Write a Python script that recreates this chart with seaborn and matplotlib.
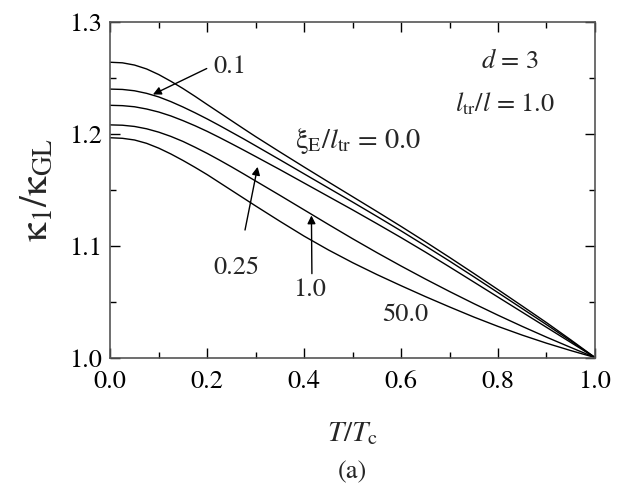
import numpy as np
import pandas as pd
import seaborn as sns
import matplotlib
matplotlib.use("Agg")
import matplotlib.pyplot as plt
from matplotlib.ticker import MultipleLocator, FormatStrFormatter

T = [0.000, 0.025, 0.050, 0.075, 0.100, 0.125, 0.150, 0.175, 0.200, 0.225, 0.250,
     0.275, 0.300, 0.35, 0.40, 0.45, 0.50, 0.55, 0.60, 0.65, 0.70, 0.75, 0.80,
     0.85, 0.90, 0.95, 1.00]
k_00 = [1.2640, 1.2635, 1.2615, 1.2580, 1.2530, 1.2470, 1.2405, 1.2335, 1.2262, 1.2190,
        1.2118, 1.2046, 1.1975, 1.1838, 1.1703, 1.1570, 1.1438, 1.1306, 1.1172, 1.1035,
        1.0895, 1.0752, 1.0607, 1.0460, 1.0312, 1.0158, 1.0000]
k_01 = [1.2400, 1.2397, 1.2385, 1.2362, 1.2330, 1.2288, 1.2240, 1.2188, 1.2133, 1.2075,
        1.2015, 1.1955, 1.1893, 1.1768, 1.1642, 1.1516, 1.1390, 1.1262, 1.1132, 1.0998,
        1.0862, 1.0722, 1.0580, 1.0437, 1.0294, 1.0148, 1.0000]
k_025 = [1.2255, 1.2252, 1.2242, 1.2222, 1.2195, 1.2160, 1.2118, 1.2072, 1.2022, 1.1968,
         1.1912, 1.1855, 1.1797, 1.1680, 1.1560, 1.1440, 1.1320, 1.1197, 1.1072, 1.0943,
         1.0810, 1.0675, 1.0540, 1.0405, 1.0270, 1.0135, 1.0000]
k_10 = [1.2080, 1.2077, 1.2066, 1.2045, 1.2015, 1.1977, 1.1932, 1.1880, 1.1825, 1.1766,
        1.1705, 1.1642, 1.1578, 1.1450, 1.1320, 1.1190, 1.1062, 1.0938, 1.0818, 1.0702,
        1.0590, 1.0482, 1.0378, 1.0278, 1.0182, 1.0090, 1.0000]
k_50 = [1.1965, 1.1960, 1.1945, 1.1915, 1.1872, 1.1820, 1.1762, 1.1700, 1.1635, 1.1565,
        1.1495, 1.1425, 1.1355, 1.1218, 1.1085, 1.0962, 1.0848, 1.0742, 1.0642, 1.0545,
        1.0452, 1.0362, 1.0278, 1.0200, 1.0128, 1.0062, 1.0000]
series_names = ["0.0", "0.1", "0.25", "1.0", "50.0"]
series_vals = [k_00, k_01, k_025, k_10, k_50]

df = pd.concat([pd.DataFrame({"T": T, "k": v, "xi": n})
                for n, v in zip(series_names, series_vals)], ignore_index=True)

sns.set_style("ticks")
plt.rcParams["font.family"] = ["STIXGeneral", "DejaVu Serif"]
plt.rcParams["mathtext.fontset"] = "stix"
plt.rcParams["xtick.direction"] = "in"
plt.rcParams["ytick.direction"] = "in"

fig = plt.figure(figsize=(6.23, 5.0), dpi=100)
ax = fig.add_axes([0.177, 0.285, 0.778, 0.671])

sns.lineplot(data=df, x="T", y="k", hue="xi", palette=["black"] * 5,
             legend=False, ax=ax, linewidth=1.0, sort=False)

ax.set_xlim(0, 1)
ax.set_ylim(1.0, 1.3)
ax.xaxis.set_major_locator(MultipleLocator(0.2))
ax.xaxis.set_minor_locator(MultipleLocator(0.1))
ax.yaxis.set_major_locator(MultipleLocator(0.1))
ax.yaxis.set_minor_locator(MultipleLocator(0.05))
ax.tick_params(which="both", top=True, right=True, labelsize=19, colors="black")
ax.tick_params(which="major", length=7, width=1.0)
ax.tick_params(which="minor", length=4, width=1.0)
ax.xaxis.set_major_formatter(FormatStrFormatter("%.1f"))
ax.yaxis.set_major_formatter(FormatStrFormatter("%.1f"))
ax.tick_params(axis="x", pad=9)
ax.tick_params(axis="y", pad=6)
for s in ax.spines.values():
    s.set_linewidth(1.2)
    s.set_color("#555555")

ax.set_xlabel(r"$T/T_{\rm c}$", fontsize=21, labelpad=19)
ax.set_ylabel(r"κ$_1$/κ$_{\rm GL}$", fontsize=28, labelpad=10)
fig.text(0.5 * (0.177 + 0.955), 0.055, "(a)", ha="center", va="center", fontsize=19)

fs = 19
aprops = dict(arrowstyle="-|>", color="black", lw=1.0, mutation_scale=12,
              shrinkA=0, shrinkB=0)
ax.text(0.212, 1.2596, "0.1", fontsize=fs, ha="left", va="center")
ax.annotate("", xy=(0.088, 1.2352), xytext=(0.199, 1.2584), arrowprops=aprops)
ax.text(0.512, 1.194, r"ξ$_{\rm E}$/$l_{\rm tr}$ = 0.0", fontsize=20.5, ha="center", va="center")
ax.text(0.26, 1.080, "0.25", fontsize=fs, ha="center", va="center")
ax.annotate("", xy=(0.304, 1.1705), xytext=(0.278, 1.114), arrowprops=aprops)
ax.text(0.412, 1.060, "1.0", fontsize=fs, ha="center", va="center")
ax.annotate("", xy=(0.415, 1.127), xytext=(0.416, 1.075), arrowprops=aprops)
ax.text(0.608, 1.038, "50.0", fontsize=fs, ha="center", va="center")
ax.text(0.825, 1.264, r"$d$ = 3", fontsize=fs, ha="center", va="center")
ax.text(0.814, 1.2265, r"$l_{\rm tr}$/$l$ = 1.0", fontsize=fs, ha="center", va="center")

fig.savefig("out.png", dpi=100)
